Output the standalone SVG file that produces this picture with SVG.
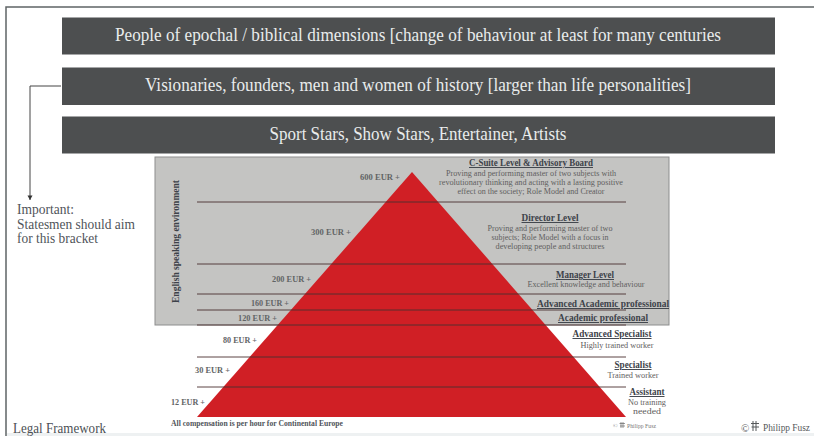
<svg xmlns="http://www.w3.org/2000/svg" width="814" height="436" viewBox="0 0 814 436">
<style>
text{font-family:"Liberation Serif","DejaVu Serif",serif}
.bar{fill:#4d4f50}
.bt{fill:#e9ecec;font-size:18.5px;text-anchor:middle}
.h{fill:#3d4249;font-size:9.5px;font-weight:bold;text-anchor:middle;text-decoration:underline}
.d{fill:#5f6060;font-size:8.5px;text-anchor:middle}
.e{fill:#626466;font-size:9px;font-weight:bold}
.ln{stroke:#4a3030;stroke-width:.9;fill:none}
.note{fill:#50545a;font-size:14px}
</style>
<defs><marker id="ah" markerWidth="6" markerHeight="6" refX="3" refY="5.5" orient="0" markerUnits="userSpaceOnUse"><path d="M0.5 1L5.5 1L3 5.5Z" fill="#333"/></marker></defs>
<rect width="814" height="436" fill="#fff"/>
<g id="frame"><path d="M814 7H6V436" fill="none" stroke="#5f6466" stroke-width="1.5"/><rect x="7" y="433" width="807" height="3" fill="#eef1f2"/></g>
<g id="bar-epochal"><rect class="bar" x="62" y="17.5" width="713" height="37"/><text class="bt" x="418" y="41" textLength="606" lengthAdjust="spacingAndGlyphs">People of epochal / biblical dimensions [change of behaviour at least for many centuries</text></g>
<g id="bar-visionaries"><rect class="bar" x="62" y="67.5" width="713" height="37.5"/><text class="bt" x="418" y="91" textLength="546" lengthAdjust="spacingAndGlyphs">Visionaries, founders, men and women of history [larger than life personalities]</text></g>
<g id="bar-stars"><rect class="bar" x="62" y="116.5" width="713" height="37"/><text class="bt" x="418" y="140" textLength="297" lengthAdjust="spacingAndGlyphs">Sport Stars, Show Stars, Entertainer, Artists</text></g>
<g id="connectors"><path d="M61 86H30V200" fill="none" stroke="#444" stroke-width="1" marker-end="url(#ah)"/></g>
<g id="note"><text class="note" x="17" y="214" textLength="57" lengthAdjust="spacingAndGlyphs">Important:</text><text class="note" x="17" y="229" textLength="118" lengthAdjust="spacingAndGlyphs">Statesmen should aim</text><text class="note" x="17" y="243" textLength="81" lengthAdjust="spacingAndGlyphs">for this bracket</text></g>
<g id="panel"><rect x="155" y="157" width="514" height="168" fill="#c4c4c2" stroke="#8d8e8e" stroke-width="1"/><text transform="translate(179 303) rotate(-90)" fill="#3d4249" font-size="9.5" font-weight="bold" textLength="123" lengthAdjust="spacingAndGlyphs">English speaking environment</text></g>
<g id="pyramid"><path d="M412 172L197 417H626Z" fill="#d01f25"/>
<path class="ln" d="M197 202H626M197 264H626M197 294H626M197 310H626M197 325H626M197 357H626M197 387H626"/></g>
<g id="salaries">
<text class="e" x="360" y="180" textLength="40" lengthAdjust="spacingAndGlyphs">600 EUR +</text>
<text class="e" x="311" y="235" textLength="40" lengthAdjust="spacingAndGlyphs">300 EUR +</text>
<text class="e" x="272" y="282" textLength="39" lengthAdjust="spacingAndGlyphs">200 EUR +</text>
<text class="e" x="251" y="306" textLength="38" lengthAdjust="spacingAndGlyphs">160 EUR +</text>
<text class="e" x="238" y="321" textLength="39" lengthAdjust="spacingAndGlyphs">120 EUR +</text>
<text class="e" x="223" y="343" textLength="34" lengthAdjust="spacingAndGlyphs">80 EUR +</text>
<text class="e" x="195" y="373" textLength="35" lengthAdjust="spacingAndGlyphs">30 EUR +</text>
<text class="e" x="171" y="405" textLength="34" lengthAdjust="spacingAndGlyphs">12 EUR +</text>
</g>
<g id="level-csuite"><text class="h" x="531" y="166" textLength="124" lengthAdjust="spacingAndGlyphs">C-Suite Level &amp; Advisory Board</text>
<text class="d" x="531" y="176" textLength="170" lengthAdjust="spacingAndGlyphs">Proving and performing master of two subjects with</text>
<text class="d" x="531" y="185" textLength="184" lengthAdjust="spacingAndGlyphs">revolutionary thinking and acting with a lasting positive</text>
<text class="d" x="531" y="194" textLength="147" lengthAdjust="spacingAndGlyphs">effect on the society; Role Model and Creator</text></g>
<g id="level-director"><text class="h" x="550" y="221" textLength="57" lengthAdjust="spacingAndGlyphs">Director Level</text>
<text class="d" x="550" y="231" textLength="125" lengthAdjust="spacingAndGlyphs">Proving and performing master of two</text>
<text class="d" x="550" y="240" textLength="117" lengthAdjust="spacingAndGlyphs">subjects; Role Model with a focus in</text>
<text class="d" x="550" y="249" textLength="109" lengthAdjust="spacingAndGlyphs">developing people and structures</text></g>
<g id="level-manager"><text class="h" x="585" y="278" textLength="58" lengthAdjust="spacingAndGlyphs">Manager Level</text>
<text class="d" x="586" y="287" textLength="117" lengthAdjust="spacingAndGlyphs">Excellent knowledge and behaviour</text></g>
<g id="level-adv-academic"><text class="h" x="603" y="307" textLength="132" lengthAdjust="spacingAndGlyphs">Advanced Academic professional</text></g>
<g id="level-academic"><text class="h" x="603" y="321" textLength="90" lengthAdjust="spacingAndGlyphs">Academic professional</text></g>
<g id="level-adv-specialist"><text class="h" x="612" y="337" textLength="79" lengthAdjust="spacingAndGlyphs">Advanced Specialist</text>
<text class="d" x="617" y="348" textLength="73" lengthAdjust="spacingAndGlyphs">Highly trained worker</text></g>
<g id="level-specialist"><text class="h" x="633" y="368" textLength="37" lengthAdjust="spacingAndGlyphs">Specialist</text>
<text class="d" x="633" y="378" textLength="51" lengthAdjust="spacingAndGlyphs">Trained worker</text></g>
<g id="level-assistant"><text class="h" x="647" y="395" textLength="35" lengthAdjust="spacingAndGlyphs">Assistant</text>
<text class="d" x="647" y="405" textLength="38" lengthAdjust="spacingAndGlyphs">No training</text>
<text class="d" x="647" y="414" textLength="28" lengthAdjust="spacingAndGlyphs">needed</text></g>
<g id="footer">
<text x="171" y="426" fill="#50545a" font-size="8.5" font-weight="bold" textLength="172" lengthAdjust="spacingAndGlyphs">All compensation is per hour for Continental Europe</text>
<text x="13" y="433" fill="#4b5054" font-size="14" textLength="93" lengthAdjust="spacingAndGlyphs">Legal Framework</text>
<text x="613" y="428" fill="#6a6d70" font-size="6">©</text>
<path d="M621 422V428M623 422V428M619.5 423.5H625M620 426H625" stroke="#555" stroke-width=".6" fill="none"/>
<text x="627" y="428" fill="#777" font-size="6" textLength="29" lengthAdjust="spacingAndGlyphs">Philipp Fusz</text>
<text x="741" y="432" fill="#55585a" font-size="11">©</text>
<path d="M753 421V431M756 421V431M751 423.5H759M751.5 427H759" stroke="#55585a" stroke-width="1" fill="none"/>
<text x="763" y="431" fill="#55585a" font-size="10" textLength="47" lengthAdjust="spacingAndGlyphs">Philipp Fusz</text>
</g>
</svg>
